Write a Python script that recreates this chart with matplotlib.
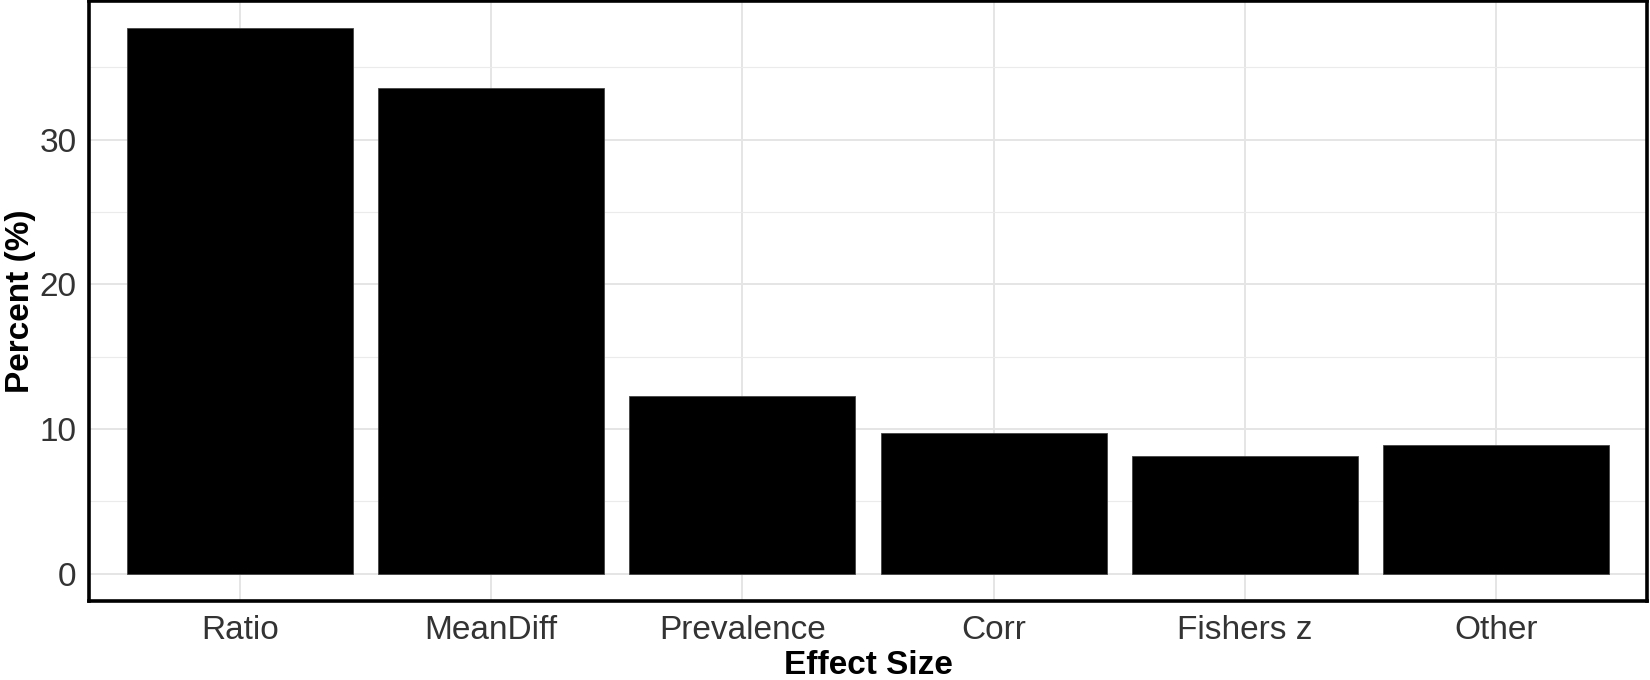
import matplotlib
matplotlib.use("Agg")
import matplotlib.pyplot as plt
from matplotlib.ticker import MultipleLocator

categories = ["Ratio", "MeanDiff", "Prevalence", "Corr", "Fishers z", "Other"]
percent = [37.7, 33.6, 12.28, 9.72, 8.16, 8.92]

plt.rcParams["font.family"] = ["Liberation Sans", "DejaVu Sans"]

fig = plt.figure(figsize=(16.5, 6.8), dpi=100)
ax = fig.add_axes([89 / 1650, 1 - 601 / 680, (1647 - 89) / 1650, 600 / 680])

x = list(range(len(categories)))
ax.bar(x, percent, width=0.9, color="black", edgecolor="#444444", linewidth=0.6, zorder=3)

ymax = max(percent)
ax.set_xlim(-0.6, len(categories) - 1 + 0.6)
ax.set_ylim(-0.05 * ymax, ymax * 1.05)

ax.set_xticks(x)
ax.set_xticklabels(categories)
ax.yaxis.set_major_locator(MultipleLocator(10))
ax.yaxis.set_minor_locator(MultipleLocator(5))

ax.grid(which="major", color="#e5e5e5", linewidth=1.4, zorder=0)
ax.grid(which="minor", axis="y", color="#ebebeb", linewidth=0.8, zorder=0)
ax.set_axisbelow(True)

ax.tick_params(axis="both", which="both", length=0, labelsize=24, colors="#333333")
ax.tick_params(axis="x", pad=10)
ax.tick_params(axis="y", pad=9)

for s in ax.spines.values():
    s.set_color("black")
    s.set_linewidth(2.6)

ax.set_xlabel("Effect Size", fontsize=24, fontweight="bold", labelpad=3)
ax.set_ylabel("Percent (%)", fontsize=24, fontweight="bold")
ax.yaxis.set_label_coords(-0.034, 0.5)

fig.savefig("out.png", dpi=100)
